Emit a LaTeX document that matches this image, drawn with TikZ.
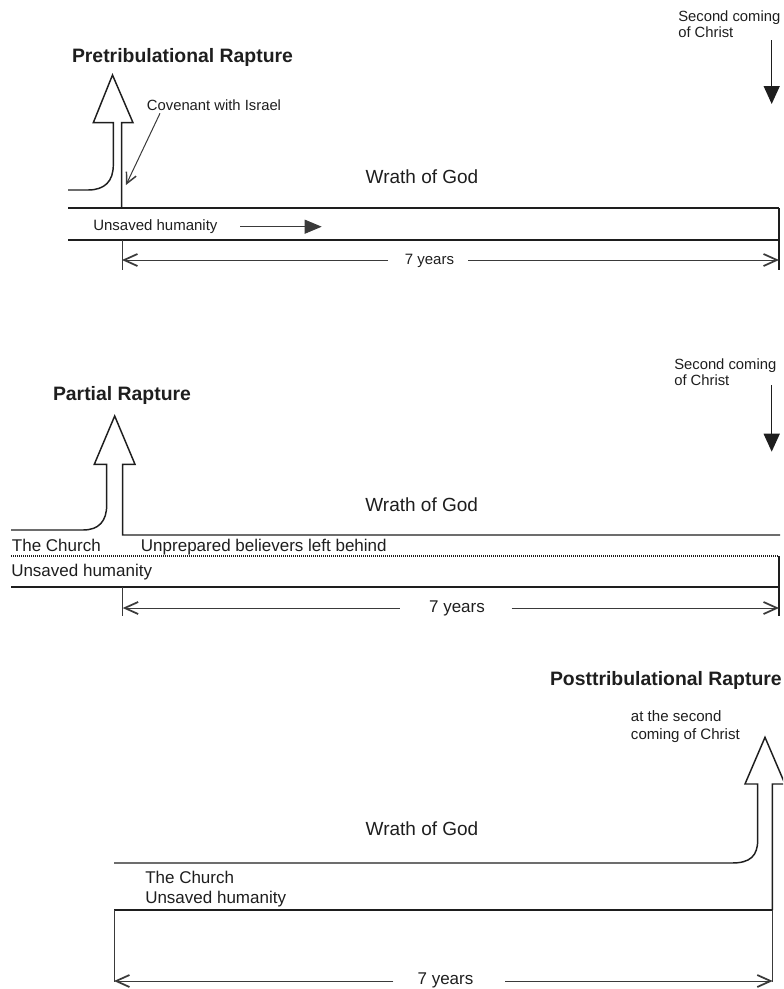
\documentclass[tikz,border=0pt]{standalone}
\usepackage{fontspec}
\setmainfont{Liberation Sans}
\usetikzlibrary{arrows.meta}
\definecolor{ink}{HTML}{1E1E1E}
\definecolor{dimc}{HTML}{3A3A3A}
\begin{document}
\begin{tikzpicture}[x=0.75pt,y=-0.75pt,
  ln/.style={draw=ink,line width=1.1pt,line join=miter},
  thinln/.style={draw=dimc,line width=0.75pt},
  dimline/.style={draw=dimc,line width=0.75pt,-{Straight Barb[length=10pt,width=9pt,line width=1.3pt]}},
  barbln/.style={draw=dimc,line width=0.75pt,-{Straight Barb[length=8pt,width=8pt,line width=1.1pt]}},
  solidarr/.style={draw=ink,line width=1.1pt,-{Triangle[length=13.5pt,width=12pt]}},
  smallarr/.style={draw=dimc,line width=0.75pt,-{Triangle[length=12.75pt,width=10.5pt]}},
  dotln/.style={draw=ink,line width=0.9pt,dash pattern=on 0.75pt off 0.75pt},
  lbl/.style={inner sep=0pt,anchor=base west,text=ink},
  ttl/.style={lbl,font=\fontsize{14.55pt}{16pt}\selectfont\bfseries},
  fs/.style={font=\fontsize{11.1pt}{13pt}\selectfont},
  fm/.style={font=\fontsize{12.75pt}{15pt}\selectfont},
  fw/.style={font=\fontsize{14.25pt}{16pt}\selectfont}]
\useasboundingbox (0,0) rectangle (783,989);
\clip (0,0) rectangle (783,989);

% ================= TOP: Pretribulational =================
\node[ttl,anchor=base] (t1) at (182.5,62) {Pretribulational Rapture};
\node[lbl,fs] (sc1a) at (678,21.7) {Second coming};
\node[lbl,fs] (sc1b) at (678,37.3) {of Christ};
\node[lbl,fs] (cov) at (146.7,110.3) {Covenant with Israel};
\node[lbl,fw,anchor=base] (w1) at (422,183.3) {Wrath of God};
\node[lbl,font=\fontsize{11.25pt}{13pt}\selectfont] (u1) at (93,230) {Unsaved humanity};
\node[lbl,font=\fontsize{11.25pt}{13pt}\selectfont,anchor=base] (y1) at (429.5,264) {7 years};

\draw[ln] (68,190) -- (88,190) .. controls (105,190) and (113.3,181) .. (113.3,165)
  -- (113.3,122.7) -- (93.3,122.7) -- (112.5,75) -- (133,122.7) -- (121.7,122.7) -- (121.7,208);
\draw[ln] (68,208) -- (779,208);
\draw[ln] (68,240) -- (779,240);
\draw[ln] (779,208) -- (779,270);
\draw[thinln] (122,240) -- (122,270);

\coordinate (c1s) at (160,113.3);
\coordinate (c1e) at (126,185);
\draw[barbln] (c1s) -- (c1e);

\coordinate (u1s) at (240,226.7);
\coordinate (u1e) at (321.7,226.7);
\draw[smallarr] (u1s) -- (u1e);

\coordinate (sc1s) at (771.7,40);
\coordinate (sc1e) at (771.7,104);
\draw[solidarr] (sc1s) -- (sc1e);

\coordinate (d1L) at (122,260);
\coordinate (d1R) at (779,260);
\coordinate (d1gl) at (388,260);
\coordinate (d1gr) at (468,260);
\draw[dimline] (d1gl) -- (d1L);
\draw[dimline] (d1gr) -- (d1R);

% ================= MIDDLE: Partial =================
\node[ttl,anchor=base] (t2) at (122,400) {Partial Rapture};
\node[lbl,fs] (sc2a) at (674,369.3) {Second coming};
\node[lbl,fs] (sc2b) at (674,385.7) {of Christ};
\node[lbl,fw,anchor=base] (w2) at (421.7,511.7) {Wrath of God};
\node[lbl,fm] (ch2) at (11.7,551) {The Church};
\node[lbl,fm] (up2) at (140.7,551.5) {Unprepared believers left behind};
\node[lbl,fm] (u2) at (11,576) {Unsaved humanity};
\node[lbl,fm,anchor=base] (y2) at (457,612) {7 years};

\draw[ln] (11,530) -- (83,530) .. controls (99,530) and (106.7,521) .. (106.7,505)
  -- (106.7,464.3) -- (94.3,464.3) -- (114.7,416) -- (135,464.3) -- (122.7,464.3) -- (122.7,535) -- (780,535);
\draw[dotln] (11,556) -- (779,556);
\draw[ln] (11,587) -- (779,587);
\draw[ln] (779,556) -- (779,616);
\draw[thinln] (122.7,587) -- (122.7,616);

\coordinate (sc2s) at (771.7,385);
\coordinate (sc2e) at (771.7,451.7);
\draw[solidarr] (sc2s) -- (sc2e);

\coordinate (d2L) at (122.7,608);
\coordinate (d2R) at (779,608);
\coordinate (d2gl) at (399.6,608);
\coordinate (d2gr) at (511.6,608);
\draw[dimline] (d2gl) -- (d2L);
\draw[dimline] (d2gr) -- (d2R);

% ================= BOTTOM: Posttribulational =================
\node[ttl,anchor=base east] (t3) at (782,685) {Posttribulational Rapture};
\node[lbl,font=\fontsize{11.3pt}{13pt}\selectfont] (at3a) at (630.7,721.7) {at the second};
\node[lbl,font=\fontsize{11.3pt}{13pt}\selectfont] (at3b) at (630.7,739) {coming of Christ};
\node[lbl,fw,anchor=base] (w3) at (422,835) {Wrath of God};
\node[lbl,fm] (ch3) at (145,883.3) {The Church};
\node[lbl,fm] (u3) at (145,903.3) {Unsaved humanity};
\node[lbl,fm,anchor=base] (y3) at (445.5,984) {7 years};

\draw[ln] (114,863) -- (732,863) .. controls (750,863) and (757.7,856) .. (757.7,840)
  -- (757.7,784) -- (745,784) -- (765,737.3) -- (785,784) -- (772.3,784) -- (772.3,910);
\draw[draw=ink,line width=1.8pt] (114,910) -- (772.3,910);
\draw[thinln] (114,910) -- (114,982);
\draw[thinln] (772.3,910) -- (772.3,982);

\coordinate (d3L) at (114,981);
\coordinate (d3R) at (772.7,981);
\coordinate (d3gl) at (393.4,981);
\coordinate (d3gr) at (505,981);
\draw[dimline] (d3gl) -- (d3L);
\draw[dimline] (d3gr) -- (d3R);
\end{tikzpicture}
\end{document}
